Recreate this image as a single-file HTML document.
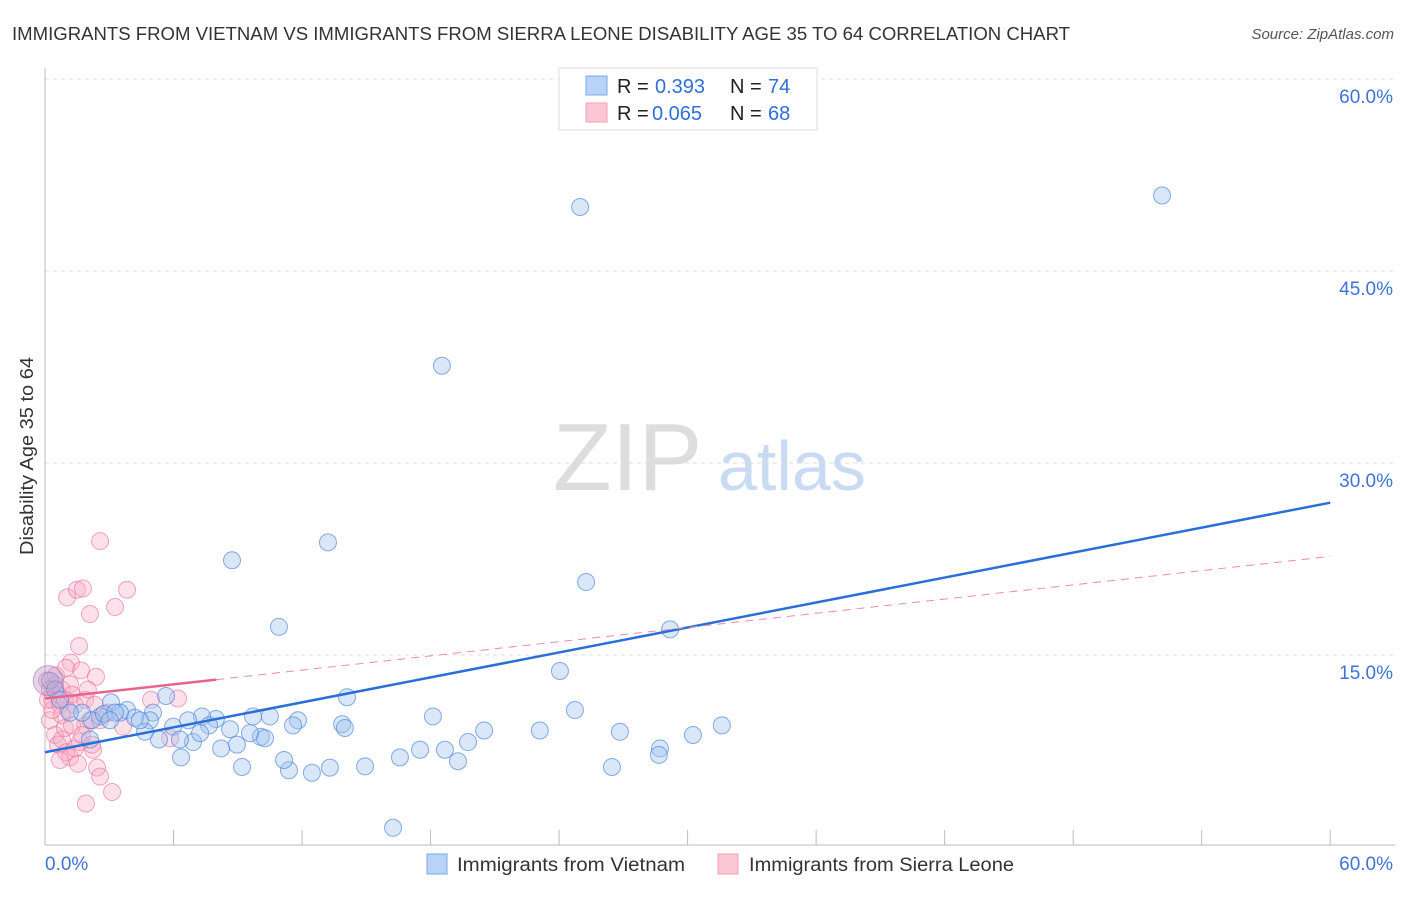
<!DOCTYPE html>
<html><head><meta charset="utf-8"><style>
body{margin:0;background:#fff;font-family:"Liberation Sans",sans-serif}
svg text{font-family:"Liberation Sans",sans-serif}
</style></head><body>
<svg id="chart" width="1406" height="892" xmlns="http://www.w3.org/2000/svg">
<text x="12" y="40" font-size="18" fill="#333" textLength="1058" lengthAdjust="spacingAndGlyphs">IMMIGRANTS FROM VIETNAM VS IMMIGRANTS FROM SIERRA LEONE DISABILITY AGE 35 TO 64 CORRELATION CHART</text>
<text x="1394" y="39" font-size="15" fill="#555" text-anchor="end" font-style="italic">Source: ZipAtlas.com</text>
<text x="553" y="490" font-size="96" fill="#ddd" font-family="Liberation Serif">ZIP</text>
<text x="718" y="490" font-size="70" fill="#c9dbf3">atlas</text>
<text transform="translate(33,456) rotate(-90)" font-size="18" fill="#333" text-anchor="middle" textLength="198" lengthAdjust="spacingAndGlyphs">Disability Age 35 to 64</text>
<g id="grid"></g><g id="pts"></g><g id="lines"></g>
<g>
<rect x="559" y="68" width="258" height="62" fill="#fff" stroke="#ddd"/>
<rect x="586" y="76" width="21" height="19" fill="#b8d3f5" stroke="#7aaae8"/>
<rect x="586" y="103" width="21" height="19" fill="#fbc7d5" stroke="#f1a0b8"/>
<text x="617" y="93" font-size="20" fill="#222">R =</text>
<text x="655" y="93" font-size="20" fill="#2f6fd8">0.393</text>
<text x="730" y="93" font-size="20" fill="#222">N =</text>
<text x="768" y="93" font-size="20" fill="#2f6fd8">74</text>
<text x="617" y="120" font-size="20" fill="#222">R =</text>
<text x="652" y="120" font-size="20" fill="#2f6fd8">0.065</text>
<text x="730" y="120" font-size="20" fill="#222">N =</text>
<text x="768" y="120" font-size="20" fill="#2f6fd8">68</text>
</g>
<g>
<rect x="427" y="854" width="20" height="20" fill="#b8d3f5" stroke="#7aaae8"/>
<text x="457" y="871" font-size="19" fill="#333" textLength="228" lengthAdjust="spacingAndGlyphs">Immigrants from Vietnam</text>
<rect x="718" y="854" width="20" height="20" fill="#fbc7d5" stroke="#f1a0b8"/>
<text x="749" y="871" font-size="19" fill="#333" textLength="265" lengthAdjust="spacingAndGlyphs">Immigrants from Sierra Leone</text>
</g>
<text x="45" y="870" font-size="19" fill="#3d74d6">0.0%</text>
<text x="1393" y="870" font-size="19" fill="#3d74d6" text-anchor="end">60.0%</text>
</svg>
<script>
const yTicks=[15,30,45,60];
const xTicks=[0,6,12,18,24,30,36,42,48,54,60];
const blueX=[24.98,52.15,18.53,8.73,13.21,25.26,10.92,29.18,24.04,14.1,5.65,3.08,3.83,5.04,24.74,18.11,13.87,14.0,11.81,10.5,9.71,7.98,7.33,6.68,5.98,4.9,4.2,3.5,2.57,2.19,1.73,31.6,26.84,23.1,20.5,11.58,8.64,7.66,10.08,8.96,8.22,6.91,6.3,5.32,4.67,2.1,19.75,18.67,17.51,16.57,30.25,28.71,28.66,19.28,14.94,13.3,12.46,11.39,11.16,9.2,26.47,16.25,6.35,0.23,0.47,0.7,1.17,2.75,3.27,10.27,7.24,3.03,4.43,9.57];
const blueY=[50.0,50.9,37.6,22.4,23.8,20.7,17.2,17.0,13.75,11.7,11.8,11.3,10.7,10.5,10.7,10.2,9.6,9.3,9.9,10.2,10.2,10.0,10.2,9.9,9.4,9.9,10.1,10.5,10.2,9.9,10.5,9.5,9.0,9.1,9.1,9.5,9.2,9.5,8.6,8.0,7.7,8.2,8.4,8.4,9.0,8.4,8.2,7.6,7.6,7.0,8.75,7.7,7.2,6.7,6.3,6.2,5.8,6.0,6.8,6.25,6.25,1.5,7.0,13.0,12.3,11.5,10.5,10.4,10.5,8.5,8.9,9.9,9.9,8.9];
const pinkX=[2.57,1.03,1.49,1.77,3.83,3.27,2.1,1.59,1.21,1.68,2.38,4.95,6.21,3.64,5.84,2.43,2.57,3.13,1.91,2.24,0.09,0.23,0.33,0.47,0.61,0.7,0.79,0.93,1.07,1.17,1.26,1.4,0.23,0.47,0.61,0.79,0.98,1.17,1.4,1.63,1.87,2.1,0.79,0.33,0.14,1.54,0.93,1.87,2.33,1.26,2.57,0.51,0.98,2.0,2.94,0.7,1.73,2.19];
const pinkY=[23.9,19.5,20.1,20.2,20.1,18.75,18.2,15.7,14.4,13.8,13.3,11.5,11.6,9.4,8.5,6.2,5.5,4.3,3.4,7.6,13.0,12.3,11.5,12.7,11.9,11.1,12.3,11.5,10.7,12.7,11.9,11.1,9.9,8.75,8.0,8.4,7.4,7.0,7.7,8.2,9.5,9.9,10.3,10.7,11.5,6.5,9.3,11.5,11.1,9.5,9.9,13.4,14.0,12.3,10.5,6.8,8.75,8.0];
const blueTrend=[7.4,26.9];
const pinkTrend=[11.6,22.7];
const pinkSolidEnd=8;
const sx=v=>45+v*21.42, sy=v=>847-v*12.8;
const NS="http://www.w3.org/2000/svg";
function mk(p,t,a){const e=document.createElementNS(NS,t);for(const k in a)e.setAttribute(k,a[k]);document.getElementById(p).appendChild(e);return e;}
yTicks.forEach(t=>{
 const l=mk('grid','line',{x1:45,x2:1395,y1:sy(t),y2:sy(t),stroke:'#ddd','stroke-dasharray':'4,4'});
 
 
 const tx=mk('grid','text',{x:1393,y:sy(t)+24,'font-size':19,fill:'#3d74d6','text-anchor':'end'});
 tx.textContent=t.toFixed(1)+'%';
 
 
});
mk('grid','line',{x1:45,x2:45,y1:68,y2:845,stroke:'#bbb'});
mk('grid','line',{x1:45,x2:1395,y1:845,y2:845,stroke:'#bbb'});
xTicks.forEach(t=>{const l=mk('grid','line',{x1:sx(t),x2:sx(t),y1:830,y2:845,stroke:'#bbb'});
 
 });
pinkX.forEach((x,i)=>{const c=mk('pts','circle',{cx:sx(x),cy:sy(pinkY[i]),r:8.5,fill:'rgba(248,170,195,0.35)',stroke:'rgba(232,110,150,0.6)','stroke-width':1});
 
 });
blueX.forEach((x,i)=>{const c=mk('pts','circle',{cx:sx(x),cy:sy(blueY[i]),r:8.5,fill:'rgba(160,195,240,0.4)',stroke:'rgba(70,130,215,0.65)','stroke-width':1});
 
 });
const big=mk('pts','circle',{cx:sx(0.15),cy:sy(13),r:15,fill:'rgba(190,150,200,0.4)',stroke:'rgba(150,120,190,0.6)'});


const bt=mk('lines','line',{x1:sx(0),y1:sy(blueTrend[0]),x2:sx(60),y2:sy(blueTrend[1]),stroke:'#2a6fd6','stroke-width':2.5});


const pe=pinkTrend[0]+(pinkTrend[1]-pinkTrend[0])*pinkSolidEnd/60;
const pd=mk('lines','line',{x1:sx(pinkSolidEnd),y1:sy(pe),x2:sx(60),y2:sy(pinkTrend[1]),stroke:'#eb8aa8','stroke-width':1,'stroke-dasharray':'8,6'});


const ps=mk('lines','line',{x1:sx(0),y1:sy(pinkTrend[0]),x2:sx(pinkSolidEnd),y2:sy(pe),stroke:'#e8648c','stroke-width':2.5});


</script>
</body></html>
